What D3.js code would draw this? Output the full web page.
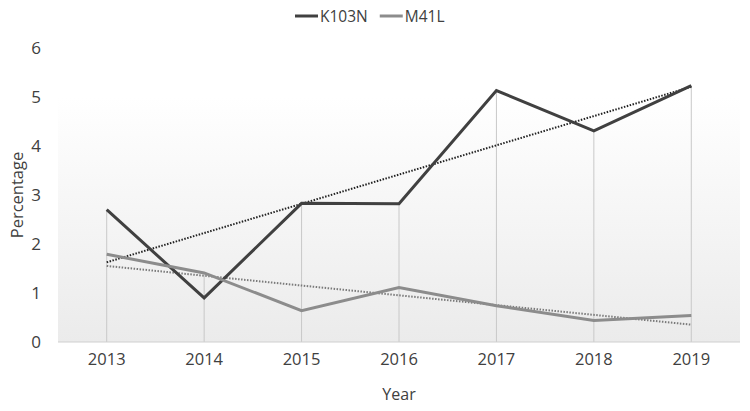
<!DOCTYPE html>
<html>
<head>
<meta charset="utf-8">
<script src="https://cdn.jsdelivr.net/npm/d3@7"></script>
<style>
  body { margin: 0; background: #fff; }
  text { font-family: "Open Sans", sans-serif; fill: #404040; }
</style>
</head>
<body>
<svg id="chart" width="750" height="411"></svg>
<script>
var years = ['2013', '2014', '2015', '2016', '2017', '2018', '2019'];
var k103n = [2.7, 0.9, 2.83, 2.82, 5.13, 4.31, 5.23];
var m41l = [1.79, 1.41, 0.64, 1.11, 0.74, 0.44, 0.54];
var yTicks = [0, 1, 2, 3, 4, 5, 6];

var margin = {top: 48, right: 10, bottom: 69, left: 58},
    width = 750 - margin.left - margin.right,
    height = 411 - margin.top - margin.bottom;

var svg = d3.select('#chart');
var g = svg.append('g').attr('transform', 'translate(' + margin.left + ',' + margin.top + ')');

var x = d3.scalePoint().domain(years).range([0, width]).padding(0.5);
var y = d3.scaleLinear().domain([0, 6]).range([height, 0]);

// background gradient of the plot area
var grad = svg.append('defs').append('linearGradient')
    .attr('id', 'bg').attr('x1', 0).attr('y1', 0).attr('x2', 0).attr('y2', 1);
grad.append('stop').attr('offset', '0%').attr('stop-color', '#ffffff');
grad.append('stop').attr('offset', '100%').attr('stop-color', '#ebebeb');
g.append('rect')
    .attr('x', 0).attr('y', y(5))
    .attr('width', width).attr('height', height - y(5))
    .attr('fill', 'url(#bg)');

// drop lines
g.selectAll('.drop')
  .data(years)
  .enter().append('line')
    .attr('x1', d => x(d)).attr('x2', d => x(d))
    .attr('y1', (d, i) => y(Math.max(k103n[i], m41l[i])))
    .attr('y2', height)
    .attr('stroke', '#c8c8c8').attr('stroke-width', 1);

// baseline
g.append('line')
    .attr('x1', 0).attr('x2', width)
    .attr('y1', height).attr('y2', height)
    .attr('stroke', '#d0d0d0').attr('stroke-width', 1.2);

// y tick labels
g.selectAll('.ytick')
  .data(yTicks)
  .enter().append('text')
    .attr('x', -17).attr('y', d => y(d))
    .attr('dy', '0.36em')
    .attr('text-anchor', 'end')
    .style('font-size', '17px')
    .text(d => d);

// x tick labels
g.selectAll('.xtick')
  .data(years)
  .enter().append('text')
    .attr('x', d => x(d)).attr('y', height + 23)
    .attr('text-anchor', 'middle')
    .style('font-size', '16.5px')
    .text(d => d);

svg.append('text')
    .attr('x', margin.left + x('2016')).attr('y', 400)
    .attr('text-anchor', 'middle')
    .style('font-size', '16px')
    .text('Year');

svg.append('text')
    .attr('transform', 'translate(23,' + (margin.top + y(3)) + ') rotate(-90)')
    .attr('text-anchor', 'middle')
    .style('font-size', '16.5px')
    .text('Percentage');

// linear trend line (least squares over the series)
const trend = (vals) => {
  var n = vals.length, mx = (n - 1) / 2, my = d3.mean(vals);
  var num = d3.sum(vals, (v, i) => (i - mx) * (v - my));
  var den = d3.sum(vals, (v, i) => (i - mx) * (i - mx));
  var b = num / den, a = my - b * mx;
  return [a, a + b * (n - 1)];
};

var line = d3.line().x((d, i) => x(years[i])).y(d => y(d));

var series = [
  {name: 'K103N', values: k103n, color: '#404040', trendColor: '#222'},
  {name: 'M41L', values: m41l, color: '#8c8c8c', trendColor: '#7a7a7a'}
];

series.forEach(s => {
  var t = trend(s.values);
  g.append('line')
    .attr('x1', x(years[0])).attr('y1', y(t[0]))
    .attr('x2', x(years[years.length - 1])).attr('y2', y(t[1]))
    .attr('stroke', s.trendColor).attr('stroke-width', 2)
    .attr('stroke-dasharray', '1.5,1.5');
});

series.forEach(s => {
  g.append('path')
    .datum(s.values)
    .attr('d', line)
    .attr('fill', 'none')
    .attr('stroke', s.color)
    .attr('stroke-width', 3)
    .attr('stroke-linejoin', 'miter');
});

// legend
var legend = svg.append('g').attr('transform', 'translate(295,16)');
var lx = 0;
series.forEach(s => {
  legend.append('line')
    .attr('x1', lx).attr('x2', lx + 23)
    .attr('y1', 0).attr('y2', 0)
    .attr('stroke', s.color).attr('stroke-width', 3);
  var t = legend.append('text')
    .attr('x', lx + 25).attr('y', 0).attr('dy', '0.36em')
    .style('font-size', '15.5px')
    .text(s.name);
  lx += 25 + t.node().getComputedTextLength() + 12;
});
</script>
</body>
</html>
